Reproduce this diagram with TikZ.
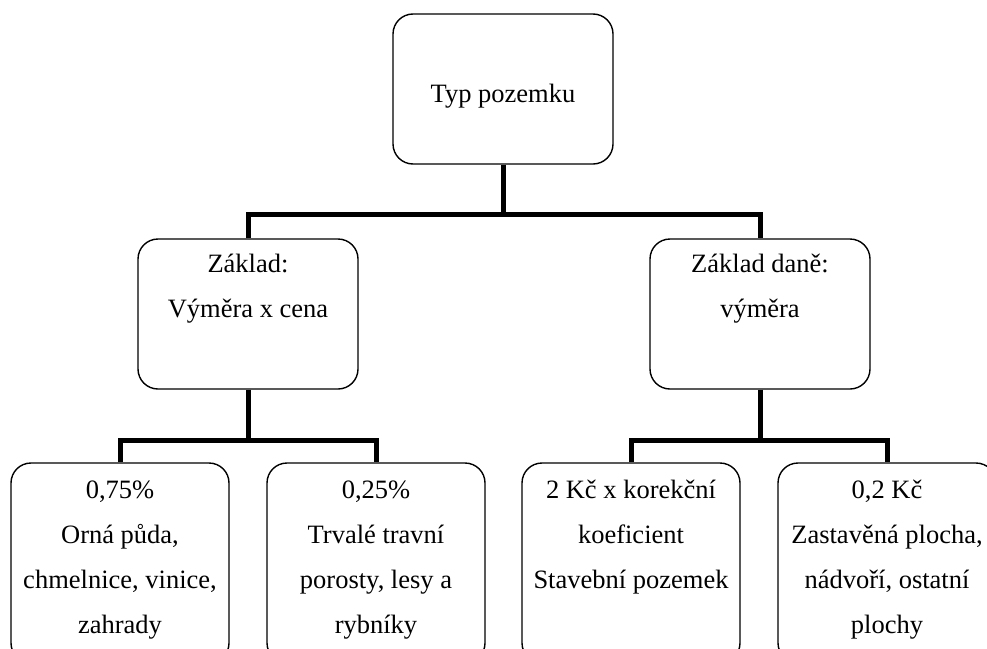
\documentclass[tikz,border=0pt]{standalone}
\usepackage{fontspec}
\setmainfont{Liberation Serif}
\begin{document}
\begin{tikzpicture}[x=1pt,y=-1pt,
  box/.style={draw, line width=1.4pt, rounded corners=20pt,
    minimum width=220pt, minimum height=150pt, inner sep=0pt},
  lowbox/.style={box, minimum width=218pt, minimum height=200pt},
  lbl/.style={font=\fontsize{26.5}{45}\selectfont, align=center,
    inner sep=0pt, anchor=base},
  conn/.style={line width=5pt, line join=miter}]
\useasboundingbox (0,0) rectangle (987,648);
\clip (0,0) rectangle (987,648);

% boxes
\node[box] (top) at (503,89) {};
\node[box] (mid1) at (248,314) {};
\node[box] (mid2) at (760,314) {};
\node[lowbox] (b1) at (120,563) {};
\node[lowbox] (b2) at (376,563) {};
\node[lowbox] (b3) at (631,563) {};
\node[lowbox] (b4) at (887,563) {};

% texts (the base anchor sits on the last line)
\node[lbl] (ttop) at (503,102) {Typ pozemku};
\node[lbl] (tmid1) at (248,317) {Základ:\\Výměra x cena};
\node[lbl] (tmid2) at (760,317) {Základ daně:\\výměra};
\node[lbl] (tb1) at (120,633) {0,75\%\\Orná půda,\\chmelnice, vinice,\\zahrady};
\node[lbl] (tb2) at (376,633) {0,25\%\\Trvalé travní\\porosty, lesy a\\rybníky};
\node[lbl] (tb3) at (631,588) {2 Kč x korekční\\koeficient\\Stavební pozemek};
\node[lbl] (tb4) at (887,633) {0,2 Kč\\Zastavěná plocha,\\nádvoří, ostatní\\plochy};

% connectors
\coordinate (j0) at (503,214);
\coordinate (j1) at (248,440);
\coordinate (j2) at (760,440);
\draw[conn] (top.south) -- (j0);
\draw[conn] (mid1.north) -- (mid1.north |- j0) -- (mid2.north |- j0) -- (mid2.north);
\draw[conn] (mid1.south) -- (j1);
\draw[conn] (b1.north) -- (b1.north |- j1) -- (b2.north |- j1) -- (b2.north);
\draw[conn] (mid2.south) -- (j2);
\draw[conn] (b3.north) -- (b3.north |- j2) -- (b4.north |- j2) -- (b4.north);
\end{tikzpicture}
\end{document}
